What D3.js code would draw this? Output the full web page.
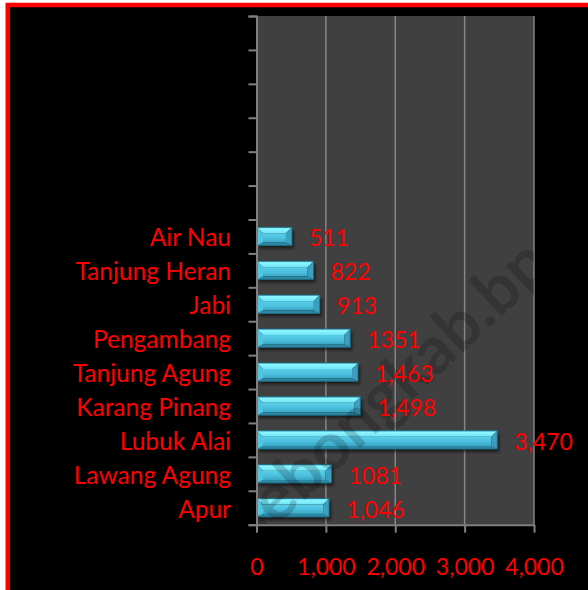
<!DOCTYPE html>
<html>
<head>
<meta charset="utf-8">
<script src="https://cdn.jsdelivr.net/npm/d3@7"></script>
<style>
  html, body { margin: 0; padding: 0; background: #fff; }
  svg { display: block; }
  text { font-family: Lato, 'Open Sans', sans-serif; }
</style>
</head>
<body>
<svg id="chart"></svg>
<script>
// villages, bottom to top as drawn
const villages = ['Apur', 'Lawang Agung', 'Lubuk Alai', 'Karang Pinang', 'Tanjung Agung', 'Pengambang', 'Jabi', 'Tanjung Heran', 'Air Nau'];
const residents = [1046, 1081, 3470, 1498, 1463, 1351, 913, 822, 511];
// labels are written as in the source, commas and all
const value_labels = ['1,046', '1081', '3,470', '1,498', '1,463', '1351', '913', '822', '511'];
const empty_slots = 6;
const x_ticks = [0, 1000, 2000, 3000, 4000];
const watermark = 'lebongkab.bps.go.id';

const width = 588;
const height = 590;
const plot = { left: 256.5, right: 534, top: 16, bottom: 524.7 };
const font_size = 23;
const name_size = 24.5;

const svg = d3.select('#chart')
  .attr('width', width)
  .attr('height', height);

const defs = svg.append('defs');

const add_gradient = function (id, stops) {
  const g = defs.append('linearGradient')
    .attr('id', id)
    .attr('x1', 0).attr('y1', 0)
    .attr('x2', 0).attr('y2', 1);
  stops.forEach(s => g.append('stop').attr('offset', s[0]).attr('stop-color', s[1]));
};

add_gradient('bevel-top', [[0, '#4cc3de'], [0.25, '#8ef6ff'], [1, '#6fe4f8']]);
add_gradient('bevel-face', [[0, '#58d0ea'], [0.5, '#4cc1df'], [1, '#3ba6c6']]);

defs.append('filter')
  .attr('id', 'shadow-blur')
  .append('feGaussianBlur')
  .attr('stdDeviation', 1.8);

defs.append('clipPath')
  .attr('id', 'plot-clip')
  .append('rect')
  .attr('x', plot.left)
  .attr('y', plot.top)
  .attr('width', plot.right - plot.left)
  .attr('height', plot.bottom - plot.top);

// frame
svg.append('rect')
  .attr('x', 7.75)
  .attr('y', 5)
  .attr('width', 800)
  .attr('height', 800)
  .attr('fill', '#000')
  .attr('stroke', '#f00')
  .attr('stroke-width', 4.5);

const slots = d3.range(villages.length + empty_slots);

const x = d3.scaleLinear()
  .domain([0, 4000])
  .range([plot.left, plot.right]);

const y = d3.scaleBand()
  .domain(slots)
  .range([plot.bottom, plot.top])
  .paddingInner(0.46)
  .paddingOuter(0.23);

const y_slot = d3.scaleLinear()
  .domain([0, slots.length])
  .range([plot.bottom, plot.top]);

svg.append('rect')
  .attr('x', plot.left)
  .attr('y', plot.top)
  .attr('width', plot.right - plot.left)
  .attr('height', plot.bottom - plot.top)
  .attr('fill', '#404040');

svg.append('g')
  .selectAll('line')
  .data(x_ticks.slice(1))
  .join('line')
  .attr('x1', d => x(d))
  .attr('x2', d => x(d))
  .attr('y1', plot.top)
  .attr('y2', plot.bottom)
  .attr('stroke', '#858585')
  .attr('stroke-width', 1.5);

// bars with a bevel look
const bar = svg.append('g')
  .selectAll('.bar')
  .data(residents)
  .join('g')
  .attr('class', 'bar');

const bar_box = function (d, i) {
  const x0 = plot.left + 0.5;
  const x1 = x(d);
  const y0 = y(i);
  const y1 = y0 + y.bandwidth();
  return { x0, x1, y0, y1 };
};

const poly = function (pts) {
  return 'M' + pts.map(p => p.join(',')).join('L') + 'Z';
};

const side = 6;
const top_b = 6;
const bot_b = 3;

bar.append('rect')
  .attr('x', (d, i) => bar_box(d, i).x0 + 2)
  .attr('y', (d, i) => bar_box(d, i).y0 + 3)
  .attr('width', (d, i) => bar_box(d, i).x1 - bar_box(d, i).x0)
  .attr('height', y.bandwidth())
  .attr('fill', '#000')
  .attr('opacity', 0.55)
  .attr('filter', 'url(#shadow-blur)');

bar.append('rect')
  .attr('x', (d, i) => bar_box(d, i).x0 + side)
  .attr('y', (d, i) => bar_box(d, i).y0 + top_b)
  .attr('width', (d, i) => bar_box(d, i).x1 - bar_box(d, i).x0 - 2 * side)
  .attr('height', y.bandwidth() - top_b - bot_b)
  .attr('fill', 'url(#bevel-face)');

bar.append('path')
  .attr('d', (d, i) => {
    const b = bar_box(d, i);
    return poly([[b.x0, b.y0], [b.x1, b.y0], [b.x1 - side, b.y0 + top_b], [b.x0 + side, b.y0 + top_b]]);
  })
  .attr('fill', 'url(#bevel-top)');

bar.append('path')
  .attr('d', (d, i) => {
    const b = bar_box(d, i);
    return poly([[b.x0, b.y1], [b.x1, b.y1], [b.x1 - side, b.y1 - bot_b], [b.x0 + side, b.y1 - bot_b]]);
  })
  .attr('fill', '#2a88a4');

bar.append('path')
  .attr('d', (d, i) => {
    const b = bar_box(d, i);
    return poly([[b.x1, b.y0], [b.x1, b.y1], [b.x1 - side, b.y1 - bot_b], [b.x1 - side, b.y0 + top_b]]);
  })
  .attr('fill', '#3b9fbd');

bar.append('path')
  .attr('d', (d, i) => {
    const b = bar_box(d, i);
    return poly([[b.x0, b.y0], [b.x0 + side, b.y0 + top_b], [b.x0 + side, b.y1 - bot_b], [b.x0, b.y1]]);
  })
  .attr('fill', '#50c6e2');

bar.append('rect')
  .attr('x', (d, i) => bar_box(d, i).x0)
  .attr('y', (d, i) => bar_box(d, i).y0)
  .attr('width', (d, i) => bar_box(d, i).x1 - bar_box(d, i).x0)
  .attr('height', y.bandwidth())
  .attr('fill', 'none')
  .attr('stroke', '#1f6f88')
  .attr('stroke-width', 0.8);

// faint site stamp, only visible over the plot
svg.append('g')
  .attr('clip-path', 'url(#plot-clip)')
  .append('text')
  .attr('transform', 'translate(264,538) rotate(-43)')
  .attr('font-size', 66)
  .attr('font-weight', 'bold')
  .attr('fill', '#000')
  .attr('opacity', 0.18)
  .text(watermark);

// axes
const y_axis = svg.append('g')
  .attr('transform', `translate(${plot.left},0)`)
  .call(d3.axisLeft(y_slot).tickValues(d3.range(slots.length + 1)).tickSize(8).tickFormat(''));

const x_axis = svg.append('g')
  .attr('transform', `translate(0,${plot.bottom})`)
  .call(d3.axisBottom(x).tickValues(x_ticks).tickSize(8).tickSizeOuter(0).tickFormat(d3.format(',')));

[y_axis, x_axis].forEach(a => {
  a.selectAll('path, line').attr('stroke', '#808080').attr('stroke-width', 2);
});

x_axis.selectAll('text')
  .attr('y', 50)
  .attr('dy', null)
  .attr('fill', '#f00')
  .attr('font-size', font_size)
  .attr('font-family', null);

svg.append('g')
  .selectAll('text')
  .data(villages)
  .join('text')
  .attr('x', 231)
  .attr('y', (d, i) => y(i) + y.bandwidth() / 2 + 10)
  .attr('text-anchor', 'end')
  .attr('fill', '#f00')
  .attr('font-size', name_size)
  .text(d => d);

svg.append('g')
  .selectAll('text')
  .data(residents)
  .join('text')
  .attr('x', d => x(d) + 17)
  .attr('y', (d, i) => y(i) + y.bandwidth() / 2 + 10)
  .attr('fill', '#f00')
  .attr('font-size', font_size)
  .text((d, i) => value_labels[i]);
</script>
</body>
</html>
